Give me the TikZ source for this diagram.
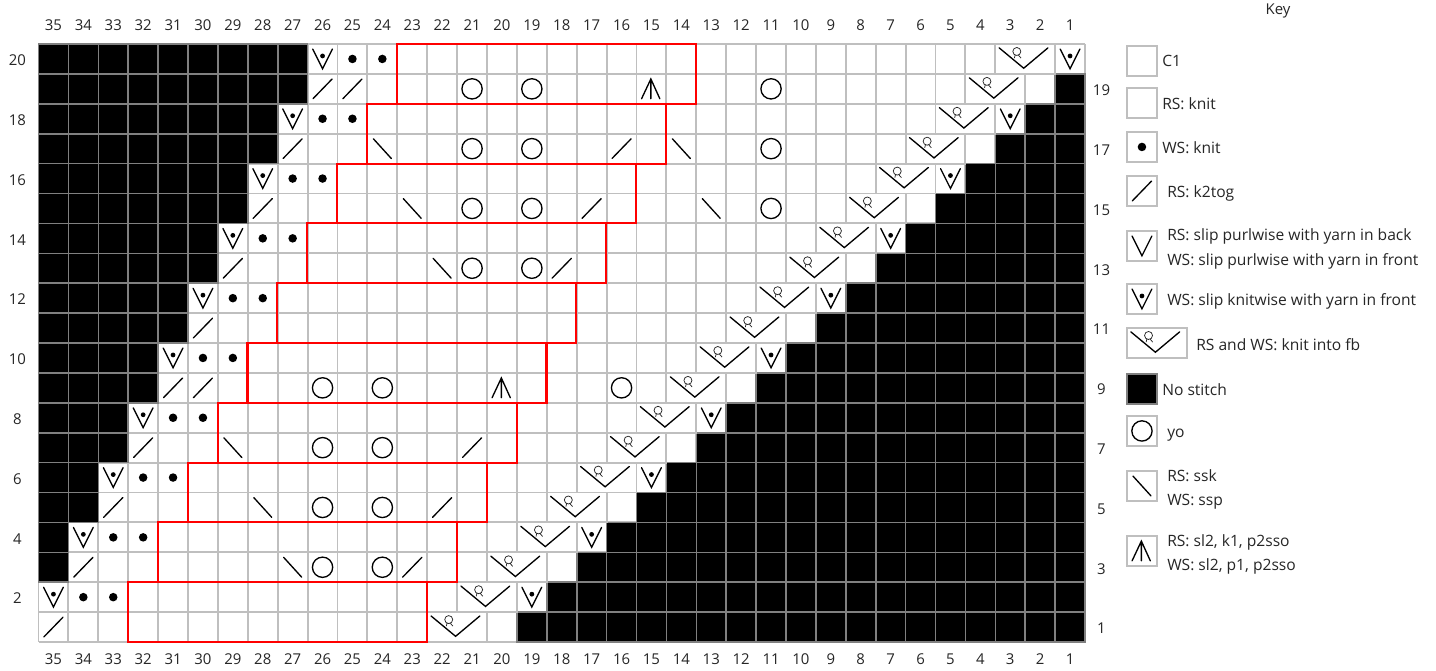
\documentclass[tikz,border=0pt]{standalone}
\usepackage{fontspec}
\setmainfont{Open Sans}
\definecolor{gridc}{HTML}{BFBFBF}
\definecolor{blkc}{HTML}{808080}
\definecolor{redc}{HTML}{FF0000}
\definecolor{txtc}{HTML}{262626}
\newcommand{\CW}{29.9}
\newcommand{\CX}[1]{38.5+(35-#1)*\CW}
\newcommand{\RY}[1]{44+(20-#1)*\CW}
\newcommand{\PT}[4]{({#1+#3*\CW},{#2+#4*\CW})}
\tikzset{
  x=0.75pt,y=-0.75pt,
  gridline/.style={draw=gridc,line width=1.4pt},
  black cell/.style={fill=black,draw=blkc,line width=1.2pt},
  white cell/.style={fill=white,draw=gridc,line width=1.4pt},
  keybox/.style={fill=white,draw=gridc,line width=1.5pt},
  sym/.style={draw=black,line width=1pt,line cap=round,line join=miter,fill=none},
  redbox/.style={draw=redc,line width=1.6pt},
  lab/.style={font=\fontsize{11.2pt}{13pt}\selectfont,text=txtc,inner sep=0pt,anchor=base},
  keytxt/.style={font=\fontsize{11.7pt}{13pt}\selectfont,text=txtc,inner sep=0pt,anchor=base west},
}
\newcommand{\symK}[2]{\draw[sym] \PT{#1}{#2}{.18}{.83}--\PT{#1}{#2}{.82}{.17};}
\newcommand{\symS}[2]{\draw[sym] \PT{#1}{#2}{.2}{.17}--\PT{#1}{#2}{.8}{.83};}
\newcommand{\symV}[2]{\draw[sym] \PT{#1}{#2}{.17}{.17}--\PT{#1}{#2}{.5}{.83}--\PT{#1}{#2}{.83}{.17};}
\newcommand{\symD}[2]{\fill[black] \PT{#1}{#2}{.5}{.5} circle[radius=3.2pt];}
\newcommand{\symVD}[2]{\symV{#1}{#2}\fill[black] \PT{#1}{#2}{.5}{.4} circle[radius=1.8pt];}
\newcommand{\symO}[2]{\draw[sym] \PT{#1}{#2}{.5}{.5} circle[radius=7.6pt];}
\newcommand{\symA}[2]{\draw[sym] \PT{#1}{#2}{.17}{.83}--\PT{#1}{#2}{.48}{.17}--\PT{#1}{#2}{.78}{.83} \PT{#1}{#2}{.48}{.17}--\PT{#1}{#2}{.48}{.83};}
\newcommand{\symF}[2]{\draw[sym] \PT{#1}{#2}{.13}{.13}--\PT{#1}{#2}{.95}{.81}--\PT{#1}{#2}{1.76}{.13};
 \draw[black!85,line width=0.55pt] \PT{#1}{#2}{.72}{.25} circle[radius=3pt] \PT{#1}{#2}{.64}{.47}--\PT{#1}{#2}{.66}{.38} \PT{#1}{#2}{.86}{.47}--\PT{#1}{#2}{.78}{.38};}
\begin{document}
\begin{tikzpicture}
\useasboundingbox[fill=white] (0,0) rectangle (1436,671);
% grid
\foreach \i in {0,...,35}{\draw[gridline] ({38.5+\i*\CW},44)--({38.5+\i*\CW},642);}
\foreach \j in {0,...,20}{\draw[gridline] (38.5,{44+\j*\CW})--(1085,{44+\j*\CW});}
% black cells
\foreach \r/\a/\b in {20/27/0,19/27/1,18/28/2,17/28/3,16/29/4,15/29/5,14/30/6,13/30/7,12/31/8,11/31/9,10/32/10,9/32/11,8/33/12,7/33/13,6/34/14,5/34/15,4/35/16,3/35/17,2/36/18,1/36/19}{
  \ifnum\a<36 \foreach \c in {35,...,\a}{\draw[black cell] ({\CX{\c}},{\RY{\r}}) rectangle +(\CW,\CW);}\fi
  \ifnum\b>0 \foreach \c in {\b,...,1}{\draw[black cell] ({\CX{\c}},{\RY{\r}}) rectangle +(\CW,\CW);}\fi
}
% fb stitches (left col)
\foreach \r/\c in {20/3,19/4,18/5,17/6,16/7,15/8,14/9,13/10,12/11,11/12,10/13,9/14,8/15,7/16,6/17,5/18,4/19,3/20,2/21,1/22}{
  \draw[white cell] ({\CX{\c}},{\RY{\r}}) rectangle +(2*\CW,\CW);
  \symF{\CX{\c}}{\RY{\r}}
}
% slip + yarn front
\foreach \r/\c in {20/26,18/27,16/28,14/29,12/30,10/31,8/32,6/33,4/34,2/35,20/1,18/3,16/5,14/7,12/9,10/11,8/13,6/15,4/17,2/19}{\symVD{\CX{\c}}{\RY{\r}}}
% dots
\foreach \r/\c in {20/25,20/24,18/26,18/25,16/27,16/26,14/28,14/27,12/29,12/28,10/30,10/29,8/31,8/30,6/32,6/31,4/33,4/32,2/34,2/33}{\symD{\CX{\c}}{\RY{\r}}}
% k2tog
\foreach \r/\c in {19/26,19/25,17/27,17/16,15/28,15/17,13/29,13/18,11/30,9/31,9/30,7/32,7/21,5/33,5/22,3/34,3/23,1/35}{\symK{\CX{\c}}{\RY{\r}}}
% ssk
\foreach \r/\c in {17/24,17/14,15/23,15/13,13/22,7/29,5/28,3/27}{\symS{\CX{\c}}{\RY{\r}}}
% yo
\foreach \r/\c in {19/21,19/19,19/11,17/21,17/19,17/11,15/21,15/19,15/11,13/21,13/19,9/26,9/24,9/16,7/26,7/24,5/26,5/24,3/26,3/24}{\symO{\CX{\c}}{\RY{\r}}}
% sl2
\foreach \r/\c in {19/15,9/20}{\symA{\CX{\c}}{\RY{\r}}}
% red repeat boxes
\foreach \n in {0,...,9}{
  \draw[redbox] ({397-\n*\CW},{44+2*\n*\CW}) rectangle +(299,{2*\CW});
}
% numbers
\foreach \c in {1,...,35}{
  \node[lab] (top\c) at ({\CX{\c}+\CW/2},31) {\c};
  \node[lab] (bot\c) at ({\CX{\c}+\CW/2},664.5) {\c};
}
\foreach \r in {2,4,...,20}{\node[lab] (left\r) at (17.3,{\RY{\r}+\CW/2+6.8}) {\r};}
\foreach \r in {1,3,...,19}{\node[lab] (right\r) at (1101.5,{\RY{\r}+\CW/2+6.8}) {\r};}
% key
\node[lab] (keytitle) at (1278,15) {Key};
\foreach \y in {46,88,132,176,231,284,416,471,536}{\draw[keybox] (1127,\y) rectangle +(30,30);}
\draw[keybox] (1127,328) rectangle +(60,30);
\draw[keybox,fill=black,draw=blkc] (1127,373.5) rectangle +(30,30);
\symD{1127}{132}
\symK{1127}{176}
\symV{1127}{231}
\symVD{1127}{284}
\symF{1127}{328}
\symO{1127}{416}
\symS{1127}{471}
\symA{1127}{536}
\node[keytxt] (k1) at (1162,66.7) {C1};
\node[keytxt] (k2) at (1162,109) {RS: knit};
\node[keytxt] (k3) at (1162,153) {WS: knit};
\node[keytxt] (k4) at (1167,197.5) {RS: k2tog};
\node[keytxt] (k5a) at (1167,240) {RS: slip purlwise with yarn in back};
\node[keytxt] (k5b) at (1167,265) {WS: slip purlwise with yarn in front};
\node[keytxt] (k6) at (1167,305.5) {WS: slip knitwise with yarn in front};
\node[keytxt] (k7) at (1196,350) {RS and WS: knit into fb};
\node[keytxt] (k8) at (1162,395.5) {No stitch};
\node[keytxt] (k9) at (1167,437) {yo};
\node[keytxt] (k10a) at (1167,481.5) {RS: ssk};
\node[keytxt] (k10b) at (1167,505.5) {WS: ssp};
\node[keytxt] (k11a) at (1167,546) {RS: sl2, k1, p2sso};
\node[keytxt] (k11b) at (1167,570.5) {WS: sl2, p1, p2sso};
\end{tikzpicture}
\end{document}
